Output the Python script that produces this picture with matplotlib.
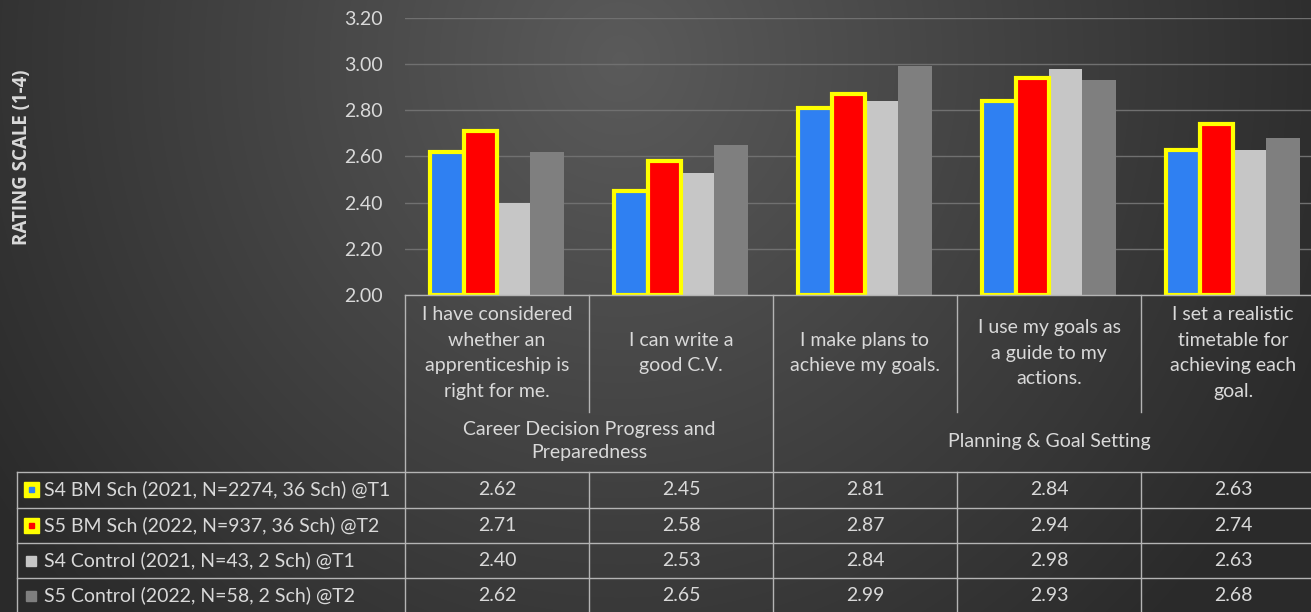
import numpy as np
import matplotlib.pyplot as plt
from matplotlib.patches import Rectangle

plt.rcParams['font.family'] = ['Lato', 'DejaVu Sans']

# survey items and the two section headings they sit under
categories = ["I have considered\nwhether an\napprenticeship is\nright for me.",
              "I can write a\ngood C.V.",
              "I make plans to\nachieve my goals.",
              "I use my goals as\na guide to my\nactions.",
              "I set a realistic\ntimetable for\nachieving each\ngoal."]
sections = ["Career Decision Progress and\nPreparedness", "Planning & Goal Setting"]
section_sizes = [2, 3]

series_names = ["S4 BM Sch (2021, N=2274, 36 Sch) @T1",
                "S5 BM Sch (2022, N=937, 36 Sch) @T2",
                "S4 Control (2021, N=43, 2 Sch) @T1",
                "S5 Control (2022, N=58, 2 Sch) @T2"]
s4_bm = [2.62, 2.45, 2.81, 2.84, 2.63]
s5_bm = [2.71, 2.58, 2.87, 2.94, 2.74]
s4_control = [2.40, 2.53, 2.84, 2.98, 2.63]
s5_control = [2.62, 2.65, 2.99, 2.93, 2.68]
series = [s4_bm, s5_bm, s4_control, s5_control]

colors = ['#2f80f2', '#ff0000', '#c6c6c6', '#7f7f7f']
outlined = [True, True, False, False]

y_min, y_max = 2.0, 3.2
yticks = np.arange(2.0, 3.21, 0.2)

# layout in pixels
W, H = 1311, 612
X0, COLW = 405, 184
Y_BASE, Y_TOP = 295, 18
TXT = '#d9d9d9'
LINE = '#b4b4b4'
FS = 14

fig = plt.figure(figsize=(W / 100, H / 100), dpi=100)

# radial shaded background
bg = fig.add_axes([0, 0, 1, 1], zorder=0)
yy, xx = np.mgrid[0:H, 0:W]
d = np.clip(np.sqrt(((xx - 620) / 760.0) ** 2 + ((yy - 60) / 800.0) ** 2), 0, 1)
shade = 0.355 - 0.19 * d
bg.imshow(np.dstack([shade] * 3), aspect='auto', extent=(0, W, H, 0))
bg.axis('off')

# bar chart
ax = fig.add_axes([X0 / W, (H - Y_BASE) / H, 5 * COLW / W, (Y_BASE - Y_TOP) / H], zorder=1)
ax.patch.set_visible(False)
x = np.arange(len(categories))
bw = 0.182
for i, vals in enumerate(series):
    offs = (i - 1.5) * bw
    heights = [v - y_min for v in vals]
    if outlined[i]:
        ax.bar(x + offs, heights, bw, bottom=y_min, color=colors[i],
               edgecolor='#ffff00', linewidth=3, zorder=3 + i)
    else:
        ax.bar(x + offs, heights, bw, bottom=y_min, color=colors[i],
               linewidth=0, zorder=2)
ax.set_xlim(-0.5, len(categories) - 0.5)
ax.set_ylim(y_min, y_max)
ax.set_yticks(yticks)
ax.set_yticklabels(["%.2f" % t for t in yticks], color=TXT, fontsize=FS)
ax.tick_params(axis='y', length=0, pad=16)
ax.set_xticks([])
ax.yaxis.grid(True, color='#707070', linewidth=1)
ax.set_axisbelow(True)
for s in ax.spines.values():
    s.set_visible(False)

fig.text(22 / W, 1 - 157 / H, "RATING SCALE (1-4)", rotation=90, ha='center',
         va='center', color=TXT, fontsize=13.5, fontweight='bold',
         family=['Open Sans', 'DejaVu Sans'])

# data table underneath the bars
tab = fig.add_axes([0, 0, 1, 1], zorder=2)
tab.set_xlim(0, W)
tab.set_ylim(H, 0)
tab.axis('off')

ncat = len(categories)
edges = [X0 + k * COLW for k in range(ncat + 1)]
Y_HEAD, Y_SEC = 412, 472
row_lines = [472, 508, 543, 578]
row_h = 35
LEFT = 17

tab.plot([X0, W], [Y_BASE, Y_BASE], color=LINE, lw=1)
# section boundaries run the full height, item dividers only through the header
bounds = np.cumsum([0] + section_sizes)
for k in range(ncat + 1):
    if k in bounds:
        tab.plot([edges[k]] * 2, [Y_BASE, H], color=LINE, lw=1)
    else:
        tab.plot([edges[k]] * 2, [Y_BASE, Y_HEAD], color=LINE, lw=1)
        tab.plot([edges[k]] * 2, [Y_SEC, H], color=LINE, lw=1)
for yl in row_lines:
    tab.plot([LEFT, W], [yl, yl], color=LINE, lw=1)
tab.plot([LEFT, LEFT], [Y_SEC, H], color=LINE, lw=1)

for k, lab in enumerate(categories):
    tab.text((edges[k] + edges[k + 1]) / 2, 353, lab, ha='center', va='center',
             color=TXT, fontsize=FS, linespacing=1.6)
for j, lab in enumerate(sections):
    xc = (edges[bounds[j]] + edges[bounds[j + 1]]) / 2
    tab.text(xc, 441, lab, ha='center', va='center', color=TXT, fontsize=FS,
             linespacing=1.4)

for i, (name, vals) in enumerate(zip(series_names, series)):
    yc = row_lines[i] + row_h / 2
    if outlined[i]:
        tab.add_patch(Rectangle((24, yc - 7.5), 15, 15, color='#ffff00'))
        tab.add_patch(Rectangle((29, yc - 2.5), 5, 5, color=colors[i]))
    else:
        tab.add_patch(Rectangle((26, yc - 5), 10, 10, color=colors[i]))
    tab.text(44, yc, name, ha='left', va='center', color=TXT, fontsize=FS)
    for k, v in enumerate(vals):
        tab.text((edges[k] + edges[k + 1]) / 2, yc, "%.2f" % v, ha='center',
                 va='center', color=TXT, fontsize=FS)

fig.savefig('out.png', dpi=100)
